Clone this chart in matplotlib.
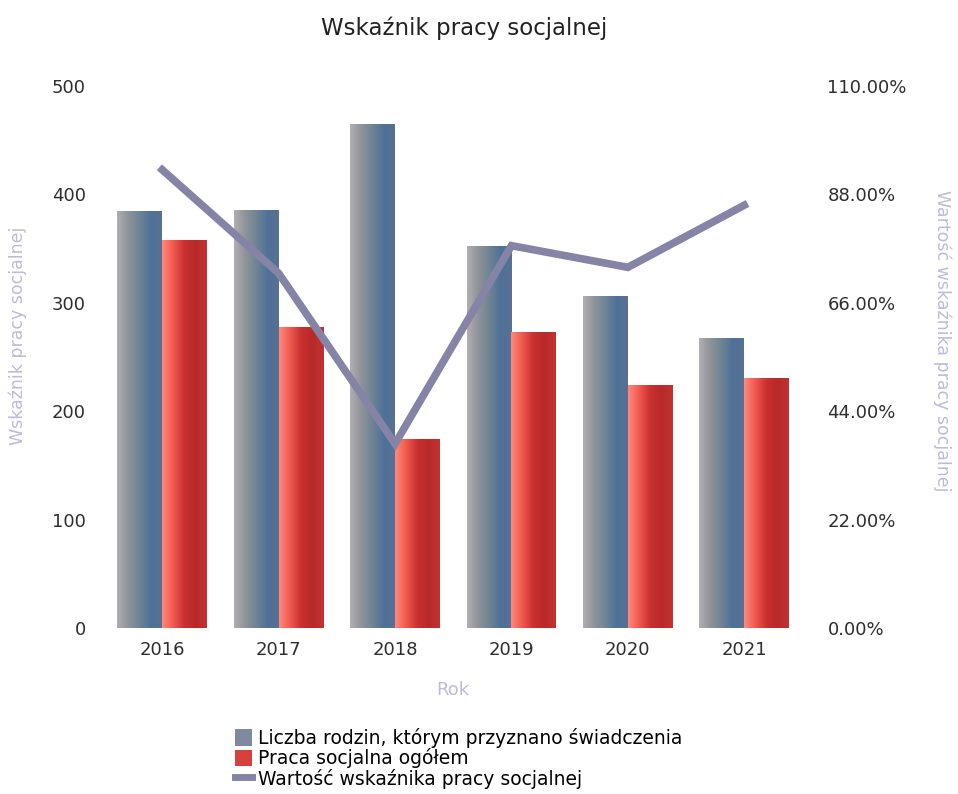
import numpy as np
import matplotlib
matplotlib.use("Agg")
import matplotlib.pyplot as plt
from matplotlib.colors import LinearSegmentedColormap
from matplotlib.patches import Patch
from matplotlib.lines import Line2D
from matplotlib.ticker import FuncFormatter

plt.rcParams['font.family'] = ['DejaVu Sans']

years = ['2016', '2017', '2018', '2019', '2020', '2021']
rodziny = [385, 386, 465, 352, 306, 268]
praca = [358, 278, 174, 273, 224, 231]
wskaznik = [93.0, 72.0, 37.4, 77.6, 73.2, 85.8]

title = 'Wskaźnik pracy socjalnej'
label_left = 'Wskaźnik pracy socjalnej'
label_right = 'Wartość wskaźnika pracy socjalnej'
label_x = 'Rok'
legend_labels = ['Liczba rodzin, którym przyznano świadczenia',
                 'Praca socjalna ogółem',
                 'Wartość wskaźnika pracy socjalnej']

grey_cmap = LinearSegmentedColormap.from_list(
    'g', ['#b0afb3', '#8f9399', '#6f8494', '#4f7198', '#587094'])
red_cmap = LinearSegmentedColormap.from_list(
    'r', ['#ff8a7c', '#f0594f', '#c93030', '#b82a2a', '#c33232'])
line_color = '#8684a6'
axis_label_color = '#bdbbd8'
text_color = '#2e2e2e'

fig = plt.figure(figsize=(9.58, 7.94), dpi=100)
ax = fig.add_axes([0.1086, 0.209, 0.729, 0.6827])
ax2 = ax.twinx()

x = np.arange(len(years))
w = 0.385
grad = np.linspace(0, 1, 256).reshape(1, -1)

def gradient_bars(xs, vals, cmap):
    bars = ax.bar(xs, vals, width=w, color='none', edgecolor='none')
    for b in bars:
        x0, y0 = b.get_x(), b.get_y()
        im = ax.imshow(grad, extent=[x0, x0 + b.get_width(), y0, y0 + b.get_height()],
                       aspect='auto', cmap=cmap, interpolation='bicubic', zorder=2)
        im.set_clip_path(b)

gradient_bars(x - w / 2, rodziny, grey_cmap)
gradient_bars(x + w / 2, praca, red_cmap)

ax.set_xlim(-0.5, len(years) - 0.5)
ax.set_ylim(0, 500)
ax.set_yticks([0, 100, 200, 300, 400, 500])
ax.set_xticks(x)
ax.set_xticklabels(years)
ax.tick_params(axis='both', length=0, labelsize=13, colors=text_color)
ax.tick_params(axis='y', pad=13)
ax.tick_params(axis='x', pad=9)

ax2.plot(x, wskaznik, color=line_color, linewidth=5.5, solid_joinstyle='miter', zorder=3)
ax2.set_ylim(0, 110)
ax2.set_yticks([0, 22, 44, 66, 88, 110])
ax2.yaxis.set_major_formatter(FuncFormatter(lambda v, p: f'{v:.2f}%'))
ax2.tick_params(axis='y', length=0, labelsize=13, colors=text_color, pad=18)

for a in (ax, ax2):
    for s in a.spines.values():
        s.set_visible(False)

ax.set_ylabel(label_left, color=axis_label_color, fontsize=12.5, va='center')
ax.yaxis.set_label_coords(-0.124, 0.54)
ax2.set_ylabel(label_right, color=axis_label_color, fontsize=12.5, rotation=270, va='center')
ax2.yaxis.set_label_coords(1.2, 0.53)
ax.set_xlabel(label_x, color=axis_label_color, fontsize=13, labelpad=16)

fig.text(0.484, 0.965, title, ha='center', va='center', fontsize=16.5, color='#222222')

handles = [Patch(facecolor='#7f8aa0', edgecolor='none'),
           Patch(facecolor='#d84040', edgecolor='none'),
           Line2D([0], [0], color=line_color, linewidth=5)]
fig.legend(handles, legend_labels, loc='upper left', bbox_to_anchor=(0.236, 0.095),
           frameon=False, fontsize=13.5, handlelength=0.9, handleheight=1.0,
           handletextpad=0.3, labelspacing=0.02, borderpad=0)

fig.savefig('out.png', dpi=100)
